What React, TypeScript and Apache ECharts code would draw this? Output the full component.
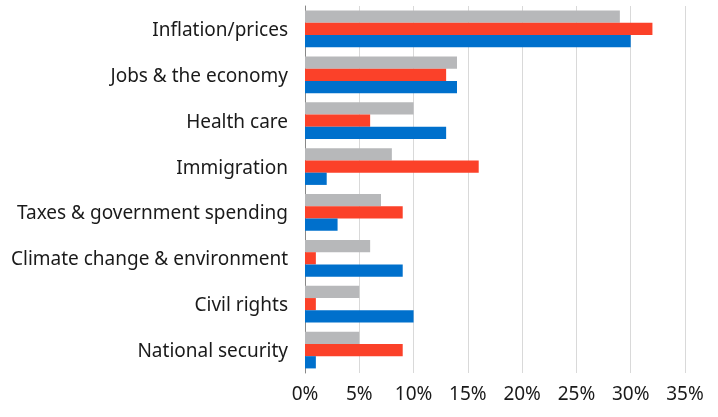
import { useEffect, useRef } from "react";
import * as echarts from "echarts";

const categories = [
  "Inflation/prices",
  "Jobs & the economy",
  "Health care",
  "Immigration",
  "Taxes & government spending",
  "Climate change & environment",
  "Civil rights",
  "National security",
];

const grayValues = [29, 14, 10, 8, 7, 6, 5, 5];
const redValues = [32, 13, 6, 16, 9, 1, 1, 9];
const blueValues = [30, 14, 13, 2, 3, 9, 10, 1];

const FONT = "'Noto Sans', sans-serif";

function App() {
  const containerRef = useRef<HTMLDivElement>(null);

  useEffect(() => {
    if (!containerRef.current) return;
    const chart = echarts.init(containerRef.current, null, { renderer: "svg" });

    const barSeries = (name: string, data: number[], color: string) => ({
      name,
      type: "bar" as const,
      data,
      barGap: "0%",
      barCategoryGap: "20%",
      itemStyle: { color },
    });

    chart.setOption({
      animation: false,
      grid: { left: 305, right: 33, top: 6, bottom: 44 },
      xAxis: {
        type: "value",
        min: 0,
        max: 35,
        interval: 5,
        axisLine: { show: false },
        axisTick: { show: false },
        splitLine: { lineStyle: { color: "#d9d9d9", width: 1 } },
        axisLabel: {
          formatter: "{value}%",
          color: "#1a1a1a",
          fontSize: 19,
          fontFamily: FONT,
          margin: 10,
        },
      },
      yAxis: {
        type: "category",
        data: categories,
        inverse: true,
        axisLine: { show: true, lineStyle: { color: "#888", width: 1 } },
        axisTick: { show: false },
        axisLabel: {
          color: "#1a1a1a",
          fontSize: 19,
          fontFamily: FONT,
          margin: 17,
        },
      },
      series: [
        barSeries("Gray", grayValues, "#b7b8ba"),
        barSeries("Red", redValues, "#fb4129"),
        barSeries("Blue", blueValues, "#0070cc"),
      ],
    });

    return () => {
      chart.dispose();
    };
  }, []);

  return (
    <div
      ref={containerRef}
      style={{ position: "fixed", left: 0, top: 0, width: 718, height: 417 }}
    ></div>
  );
}

export default App;
